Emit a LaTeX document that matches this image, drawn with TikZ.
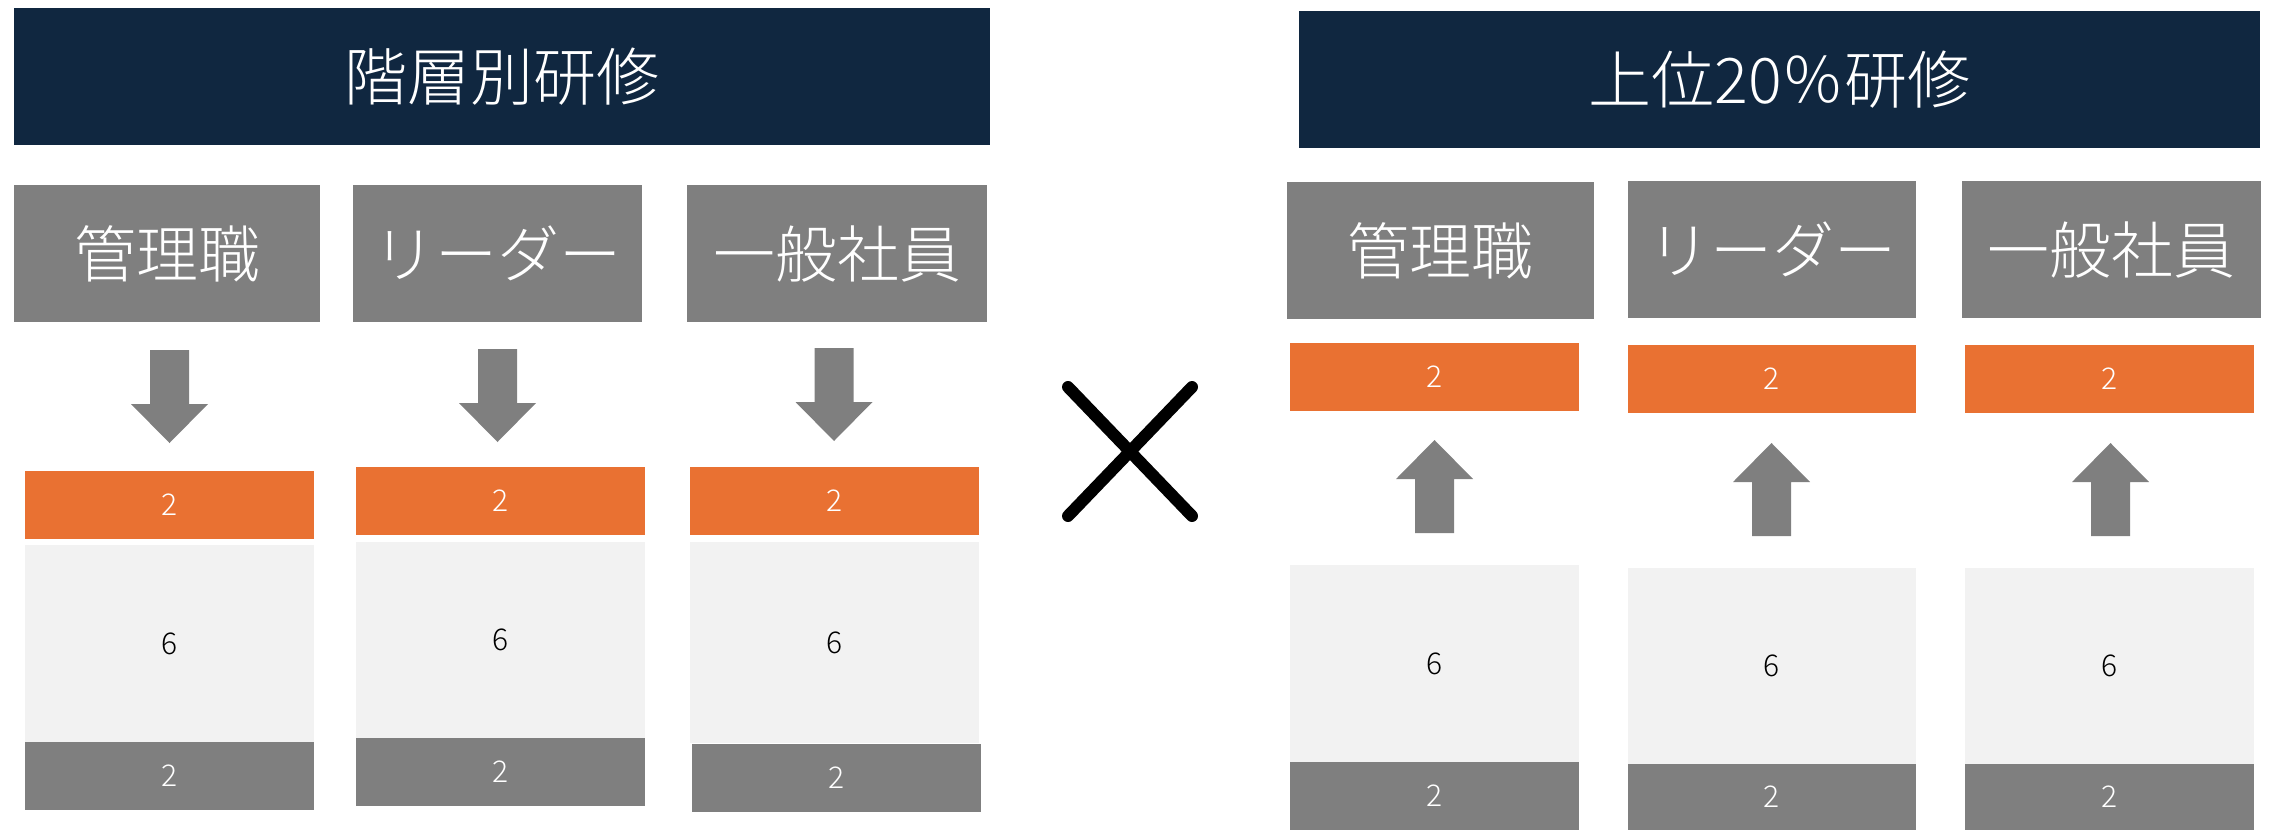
\documentclass[tikz,border=0pt]{standalone}
\usepackage{fontspec}
\IfFontExistsTF{Noto Sans CJK JP Light}
  {\newfontfamily\jp{Noto Sans CJK JP Light}}
  {\newfontfamily\jp{Noto Sans CJK JP}}
\definecolor{navy}{RGB}{16,39,64}
\definecolor{boxgrey}{RGB}{127,127,127}
\definecolor{orng}{RGB}{233,113,50}
\definecolor{lightbox}{RGB}{242,242,242}
\begin{document}
\begin{tikzpicture}[x=1pt,y=-1pt,
  base/.style={rectangle, inner sep=0pt, outer sep=0pt, draw=none},
  titlebox/.style={base, fill=navy, text=white, minimum height=137pt, font=\jp\fontsize{63}{70}\selectfont},
  catbox/.style={base, fill=boxgrey, text=white, minimum height=137pt, font=\jp\fontsize{62}{70}\selectfont},
  topbox/.style={base, fill=orng, text=white, minimum height=68pt, font=\jp\fontsize{30}{36}\selectfont},
  midbox/.style={base, fill=lightbox, text=black, font=\jp\fontsize{30}{36}\selectfont},
  lowbox/.style={base, fill=boxgrey, text=white, minimum height=68pt, font=\jp\fontsize{30}{36}\selectfont},
  downarr/.pic={\fill[boxgrey] (-19.5,0) -- (19.5,0) -- (19.5,54) -- (38.5,54) -- (0,93) -- (-38.5,54) -- (-19.5,54) -- cycle;},
  uparr/.pic={\fill[boxgrey] (-19.5,0) -- (19.5,0) -- (19.5,-54) -- (38.5,-54) -- (0,-93) -- (-38.5,-54) -- (-19.5,-54) -- cycle;},
  crossline/.style={line width=12pt, line cap=round, draw=black}
]
\useasboundingbox (0,0) rectangle (2270,830);

% ---------- left half ----------
\node[titlebox, minimum width=976pt] (lt) at (502,76.5) {階層別研修};

\node[catbox, minimum width=306pt] (lc1) at (167,253.5) {管理職};
\node[catbox, minimum width=289pt] (lc2) at (497.5,253.5) {リーダー};
\node[catbox, minimum width=300pt] (lc3) at (837,253.5) {一般社員};

\pic at (169.5,350) {downarr};
\pic at (497.5,349) {downarr};
\pic at (834,348) {downarr};

\node[topbox, minimum width=289pt] (lo1) at (169.5,505) {2};
\node[midbox, minimum width=289pt, minimum height=197pt] (lm1) at (169.5,643.5) {6};
\node[lowbox, minimum width=289pt] (lg1) at (169.5,776) {2};

\node[topbox, minimum width=289pt] (lo2) at (500.5,501) {2};
\node[midbox, minimum width=289pt, minimum height=196pt] (lm2) at (500.5,640) {6};
\node[lowbox, minimum width=289pt] (lg2) at (500.5,772) {2};

\node[topbox, minimum width=289pt] (lo3) at (834.5,501) {2};
\node[midbox, minimum width=289pt, minimum height=201pt] (lm3) at (834.5,642.5) {6};
\node[lowbox, minimum width=289pt] (lg3) at (836.5,778) {2};

% ---------- cross ----------
\coordinate (xa) at (1068,387);
\coordinate (xb) at (1192,516);
\coordinate (xc) at (1192,387);
\coordinate (xd) at (1068,516);
\draw[crossline] (xa) -- (xb);
\draw[crossline] (xc) -- (xd);

% ---------- right half ----------
\node[titlebox, minimum width=961pt] (rt) at (1779.5,79.5) {上位20％研修};

\node[catbox, minimum width=307pt] (rc1) at (1440.5,250.5) {管理職};
\node[catbox, minimum width=288pt] (rc2) at (1772,249.5) {リーダー};
\node[catbox, minimum width=299pt] (rc3) at (2111.5,249.5) {一般社員};

\node[topbox, minimum width=289pt] (ro1) at (1434.5,377) {2};
\node[topbox, minimum width=288pt] (ro2) at (1772,379) {2};
\node[topbox, minimum width=289pt] (ro3) at (2109.5,379) {2};

\pic at (1434.5,533) {uparr};
\pic at (1771.5,536) {uparr};
\pic at (2110.5,536) {uparr};

\node[midbox, minimum width=289pt, minimum height=197pt] (rm1) at (1434.5,663.5) {6};
\node[midbox, minimum width=288pt, minimum height=196pt] (rm2) at (1772,666) {6};
\node[midbox, minimum width=289pt, minimum height=196pt] (rm3) at (2109.5,666) {6};

\node[lowbox, minimum width=289pt] (rg1) at (1434.5,796) {2};
\node[lowbox, minimum width=288pt, minimum height=66pt] (rg2) at (1772,797) {2};
\node[lowbox, minimum width=289pt, minimum height=66pt] (rg3) at (2109.5,797) {2};
\end{tikzpicture}
\end{document}
